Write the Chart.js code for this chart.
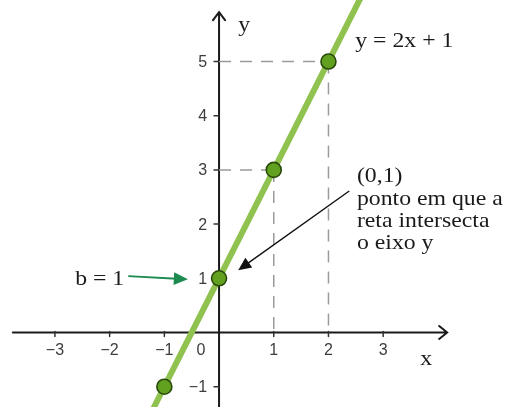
<!DOCTYPE html>
<html>
<head>
<meta charset="utf-8">
<script src="https://cdn.jsdelivr.net/npm/chart.js@4/dist/chart.umd.min.js"></script>
<style>
  html, body { margin: 0; padding: 0; background: #fff; }
  canvas { display: block; }
</style>
</head>
<body>
<canvas id="graph" width="509" height="407"></canvas>
<script>
// y = 2x + 1, marked points and the drawn segment of the line
const pointX = [-1, 0, 1, 2];
const pointY = [-1, 1, 3, 5];
const lineX = [-1.3, 2.6];
const lineY = [-1.6, 6.2];

// guide lines from the y axis to the points and down to the x axis
const guideH5 = { x: [0, 2.25], y: [5, 5] };
const guideV2 = { x: [2, 2], y: [5, 0] };
const guideH3 = { x: [0, 1], y: [3, 3] };
const guideV1 = { x: [1, 1], y: [3, 0] };

const xTicks = [-3, -2, -1, 0, 1, 2, 3];
const xTickLabels = ['\u22123', '\u22122', '\u22121', '0', '1', '2', '3'];
const yTicks = [-1, 1, 2, 3, 4, 5];
const yTickLabels = ['\u22121', '1', '2', '3', '4', '5'];

const toXY = (xs, ys) => xs.map((x, i) => ({ x, y: ys[i] }));

const SERIF = '"Liberation Serif", "Times New Roman", serif';
const SANS = '"Liberation Sans", Arial, sans-serif';

function serifText(ctx, text, x, y) {
  ctx.save();
  ctx.translate(x, y);
  ctx.scale(1.08, 1);
  ctx.font = '22px ' + SERIF;
  ctx.fillStyle = '#1a1a1a';
  ctx.textAlign = 'left';
  ctx.textBaseline = 'alphabetic';
  ctx.fillText(text, 0, 0);
  ctx.restore();
}

function arrow(ctx, x1, y1, x2, y2, color, width, head) {
  const a = Math.atan2(y2 - y1, x2 - x1);
  ctx.save();
  ctx.strokeStyle = color;
  ctx.fillStyle = color;
  ctx.lineWidth = width;
  ctx.beginPath();
  ctx.moveTo(x1, y1);
  ctx.lineTo(x2 - Math.cos(a) * head * 0.8, y2 - Math.sin(a) * head * 0.8);
  ctx.stroke();
  ctx.beginPath();
  ctx.moveTo(x2, y2);
  ctx.lineTo(x2 - head * Math.cos(a) + head * 0.45 * Math.sin(a),
             y2 - head * Math.sin(a) - head * 0.45 * Math.cos(a));
  ctx.lineTo(x2 - head * Math.cos(a) - head * 0.45 * Math.sin(a),
             y2 - head * Math.sin(a) + head * 0.45 * Math.cos(a));
  ctx.closePath();
  ctx.fill();
  ctx.restore();
}

// Cartesian axes with ticks and labels, drawn under the datasets
const axesPlugin = {
  id: 'axes',
  beforeDatasetsDraw(chart) {
    const { ctx, scales: { x, y } } = chart;
    const ox = x.getPixelForValue(0);
    const oy = y.getPixelForValue(0);
    const xLeft = x.getPixelForValue(-3.77);
    const xRight = x.getPixelForValue(4.17);
    const yTop = y.getPixelForValue(5.91);
    const yBottom = chart.height;

    ctx.save();
    ctx.strokeStyle = '#1a1a1a';
    ctx.lineWidth = 2;
    ctx.lineCap = 'round';
    ctx.beginPath();
    ctx.moveTo(xLeft, oy);
    ctx.lineTo(xRight, oy);
    ctx.moveTo(xRight - 8, oy - 6.5);
    ctx.lineTo(xRight, oy);
    ctx.lineTo(xRight - 8, oy + 6.5);
    ctx.moveTo(ox, yBottom);
    ctx.lineTo(ox, yTop);
    ctx.moveTo(ox - 6, yTop + 8);
    ctx.lineTo(ox, yTop);
    ctx.lineTo(ox + 6, yTop + 8);
    ctx.stroke();

    ctx.lineWidth = 1.5;
    ctx.strokeStyle = '#333';
    ctx.beginPath();
    xTicks.forEach(v => {
      if (v === 0) return;
      const px = x.getPixelForValue(v);
      ctx.moveTo(px, oy - 1);
      ctx.lineTo(px, oy + 4);
    });
    yTicks.forEach(v => {
      const py = y.getPixelForValue(v);
      ctx.moveTo(ox - 5, py);
      ctx.lineTo(ox, py);
    });
    ctx.stroke();

    ctx.font = '16px ' + SANS;
    ctx.fillStyle = '#3d3d3d';
    ctx.textBaseline = 'middle';
    ctx.textAlign = 'center';
    xTicks.forEach((v, i) => {
      const px = v === 0 ? ox - 18 : x.getPixelForValue(v);
      ctx.fillText(xTickLabels[i], px, oy + 18);
    });
    ctx.textAlign = 'right';
    yTicks.forEach((v, i) => {
      ctx.fillText(yTickLabels[i], ox - 12, y.getPixelForValue(v) + 1);
    });
    ctx.restore();
  }
};

// axis names, equation and the callouts for the intercept
const notesPlugin = {
  id: 'notes',
  afterDatasetsDraw(chart) {
    const { ctx, scales: { x, y } } = chart;
    const px = v => x.getPixelForValue(v);
    const py = v => y.getPixelForValue(v);

    serifText(ctx, 'y', px(0.35), py(5.57));
    serifText(ctx, 'x', px(3.68), py(-0.6));
    serifText(ctx, 'y = 2x + 1', px(2.49), py(5.27));
    serifText(ctx, 'b = 1', px(-2.63), py(0.88));

    const calloutX = px(2.52);
    serifText(ctx, '(0,1)', calloutX, py(2.77));
    serifText(ctx, 'ponto em que a', calloutX, py(2.36));
    serifText(ctx, 'reta intersecta', calloutX, py(1.95));
    serifText(ctx, 'o eixo y', calloutX, py(1.54));

    arrow(ctx, px(2.38), py(2.61), px(0.35), py(1.15), '#111', 1.4, 13);
    arrow(ctx, px(-1.66), py(1.04), px(-0.57), py(0.98), '#1d8a50', 1.8, 14);
  }
};

const guide = g => ({
  data: toXY(g.x, g.y),
  showLine: true,
  borderColor: '#9a9a9a',
  borderWidth: 1.5,
  borderDash: [12, 9],
  pointRadius: 0,
  order: 3
});

new Chart(document.getElementById('graph'), {
  type: 'scatter',
  data: {
    datasets: [
      {
        label: 'pontos',
        data: toXY(pointX, pointY),
        pointRadius: 7.5,
        pointBackgroundColor: '#62a01f',
        pointBorderColor: '#2a4a0c',
        pointBorderWidth: 1.6,
        order: 0
      },
      {
        label: 'y = 2x + 1',
        data: toXY(lineX, lineY),
        showLine: true,
        borderColor: '#8fc24f',
        borderWidth: 6,
        pointRadius: 0,
        order: 1
      },
      guide(guideH5),
      guide(guideV2),
      guide(guideH3),
      guide(guideV1)
    ]
  },
  options: {
    responsive: false,
    animation: false,
    events: [],
    layout: { padding: 0, autoPadding: false },
    scales: {
      x: { type: 'linear', min: -4.004, max: 5.3, display: false },
      y: { type: 'linear', min: -1.375, max: 6.135, display: false }
    },
    plugins: {
      legend: { display: false },
      tooltip: { enabled: false }
    }
  },
  plugins: [axesPlugin, notesPlugin]
});
</script>
</body>
</html>
